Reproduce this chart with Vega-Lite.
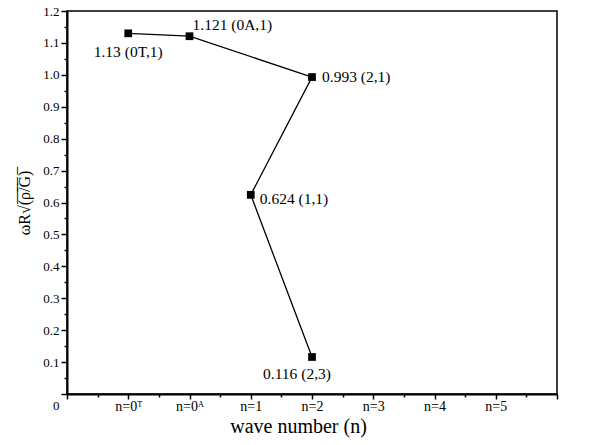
{
  "$schema": "https://vega.github.io/schema/vega-lite/v6.json",
  "autosize": {"type": "none"},
  "padding": {"left": 67, "top": 11, "right": 51, "bottom": 51},
  "width": 490,
  "height": 383,
  "background": "white",
  "config": {
    "font": "Liberation Serif",
    "view": {"stroke": "black", "strokeWidth": 1.5},
    "axis": {"grid": false, "domainColor": "black", "domainWidth": 2, "tickColor": "black", "tickWidth": 1.5,
      "labelColor": "black", "titleColor": "black", "labelFont": "Liberation Serif", "titleFont": "Liberation Serif",
      "titleFontWeight": "normal", "labelFontSize": 13}
  },
  "data": {"values": [
    {"order": 1, "n": 1, "w": 1.13, "label": "1.13 (0T,1)"},
    {"order": 2, "n": 2, "w": 1.121, "label": "1.121 (0A,1)"},
    {"order": 3, "n": 4, "w": 0.993, "label": "0.993 (2,1)"},
    {"order": 4, "n": 3, "w": 0.624, "label": "0.624 (1,1)"},
    {"order": 5, "n": 4, "w": 0.116, "label": "0.116 (2,3)"}
  ]},
  "encoding": {
    "x": {"field": "n", "type": "quantitative", "scale": {"domain": [0, 8], "nice": false, "zero": false},
      "axis": {"values": [0,0.5,1,1.5,2,2.5,3,3.5,4,4.5,5,5.5,6,6.5,7,7.5,8],
        "labelExpr": "datum.value==1 ? 'n=0ᵀ' : datum.value==2 ? 'n=0ᴬ' : (datum.value>=3 && datum.value<=7 && datum.value%1==0) ? 'n=' + (datum.value-2) : ''",
        "tickSize": {"expr": "datum.value % 1 == 0 ? 5 : 3"},
        "labelFont": "Liberation Serif",
        "labelPadding": 0, "labelFontSize": 14,
        "title": "wave number (n)", "titleFont": "Liberation Serif", "titleFontSize": 20, "titlePadding": 3, "titleX": 231}},
    "y": {"field": "w", "type": "quantitative", "scale": {"domain": [0, 1.2], "nice": false},
      "axis": {"values": [0,0.05,0.1,0.15,0.2,0.25,0.3,0.35,0.4,0.45,0.5,0.55,0.6,0.65,0.7,0.75,0.8,0.85,0.9,0.95,1.0,1.05,1.1,1.15,1.2],
        "labelExpr": "datum.value==0 ? '0' : (round(datum.value*100)%10==0 ? format(datum.value, '.1f') : '')",
        "tickSize": {"expr": "round(datum.value*100)%10==0 ? 6 : 3"},
        "labelOffset": {"expr": "datum.value==0 ? 11 : 0"},
        "labelFont": "Liberation Serif",
        "labelPadding": 2, "labelFontSize": 13,
        "title": "ωR√(̅ρ̅/̅G̅)̅", "titleFont": "Liberation Serif", "titleFontSize": 16, "titlePadding": 10}}
  },
  "layer": [
    {"mark": {"type": "line", "color": "black", "strokeWidth": 1.3}, "encoding": {"order": {"field": "order"}}},
    {"mark": {"type": "point", "shape": "square", "filled": true, "color": "black", "size": 60, "opacity": 1}},
    {"transform": [{"filter": "datum.order==1"}], "mark": {"type": "text", "font": "Liberation Serif", "fontSize": 15.5, "align": "center", "dy": 19, "color": "black"}, "encoding": {"text": {"field": "label"}}},
    {"transform": [{"filter": "datum.order==2"}], "mark": {"type": "text", "font": "Liberation Serif", "fontSize": 15.5, "align": "left", "dx": 3, "dy": -11, "color": "black"}, "encoding": {"text": {"field": "label"}}},
    {"transform": [{"filter": "datum.order==3"}], "mark": {"type": "text", "font": "Liberation Serif", "fontSize": 15.5, "align": "left", "dx": 10, "dy": 0, "color": "black"}, "encoding": {"text": {"field": "label"}}},
    {"transform": [{"filter": "datum.order==4"}], "mark": {"type": "text", "font": "Liberation Serif", "fontSize": 15.5, "align": "left", "dx": 9, "dy": 4, "color": "black"}, "encoding": {"text": {"field": "label"}}},
    {"transform": [{"filter": "datum.order==5"}], "mark": {"type": "text", "font": "Liberation Serif", "fontSize": 15.5, "align": "center", "dx": -15, "dy": 17, "color": "black"}, "encoding": {"text": {"field": "label"}}}
  ]
}
